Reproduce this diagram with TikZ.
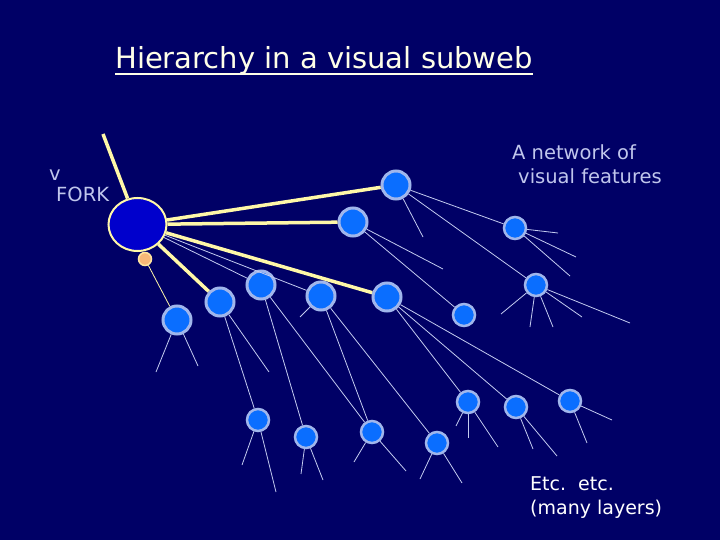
\documentclass[tikz,border=0pt]{standalone}
\usepackage{fontspec}
\setmainfont{DejaVu Sans}
\usetikzlibrary{shapes.geometric}
\definecolor{bg}{HTML}{000066}
\definecolor{featfill}{HTML}{0A6EFF}
\definecolor{featborder}{HTML}{A0B6EC}
\definecolor{strongyel}{HTML}{FFF8A8}
\definecolor{weakline}{HTML}{C4CCF0}
\definecolor{lblcol}{HTML}{C0C6EC}
\definecolor{forkfill}{HTML}{0000CC}
\definecolor{orfill}{HTML}{F8B878}
\definecolor{orborder}{HTML}{FFE6A0}
\definecolor{titlecol}{HTML}{FFFFE8}
\begin{document}
\begin{tikzpicture}[x=1pt,y=-1pt,
  feat/.style={circle,draw=featborder,fill=featfill,line width=3pt,minimum size=28pt,inner sep=0pt},
  featS/.style={circle,draw=featborder,fill=featfill,line width=2.5pt,minimum size=22pt,inner sep=0pt},
  strong/.style={draw=strongyel,line width=3.5pt},
  weak/.style={draw=weakline,line width=0.8pt},
  lbl/.style={text=lblcol,font=\fontsize{19.5}{22}\selectfont,inner sep=0pt,anchor=base west},
  wlbl/.style={text=white,font=\fontsize{19}{22}\selectfont,inner sep=0pt,anchor=base west}]
\fill[bg] (0,0) rectangle (720,540);
\useasboundingbox (0,0) rectangle (720,540);

% title
\node[text=titlecol,font=\fontsize{29}{34}\selectfont,inner sep=0pt,anchor=base west] (title) at (115,69) {Hierarchy in a visual subweb};
\draw[titlecol,line width=1.6pt] ([yshift=-5pt]title.base west) -- ([yshift=-5pt]title.base east);

% labels
\node[lbl] (v) at (49,181) {v};
\node[lbl] (forkl) at (56,202) {FORK};
\node[lbl] (net1) at (512,160) {A network of};
\node[lbl] (net2) at (518,184) {visual features};
\node[wlbl] (etc1) at (530,490) {Etc.\ \ etc.};
\node[wlbl] (etc2) at (530,514) {(many layers)};

% fork
\node[ellipse,draw=strongyel,fill=forkfill,line width=2pt,minimum width=58pt,minimum height=53pt,inner sep=0pt] (fork) at (137.5,224.5) {};
\node[circle,draw=orborder,fill=orfill,line width=1.5pt,minimum size=13pt,inner sep=0pt] (or) at (145,259) {};
\coordinate (up) at (103,134);

% feature nodes
\node[feat] (A) at (396,185) {};
\node[feat] (B) at (353,222) {};
\node[feat] (C) at (387,297) {};
\node[feat] (D) at (220,302) {};
\node[feat] (E) at (261,285) {};
\node[feat] (F) at (321,296) {};
\node[feat] (G) at (177,320) {};
\node[featS] (H) at (515,228) {};
\node[featS] (I) at (536,285) {};
\node[featS] (J) at (464,315) {};
\node[featS] (K) at (258,420) {};
\node[featS] (L) at (306,437) {};
\node[featS] (M) at (372,432) {};
\node[featS] (N) at (437,443) {};
\node[featS] (O) at (468,402) {};
\node[featS] (P) at (516,407) {};
\node[featS] (Q) at (570,401) {};

% stub ends
\coordinate (a1) at (423,237);
\coordinate (b1) at (443,269);
\coordinate (h1) at (558,233);
\coordinate (h2) at (576,257);
\coordinate (h3) at (570,276);
\coordinate (i1) at (630,323);
\coordinate (i2) at (582,317);
\coordinate (i3) at (553,327);
\coordinate (i4) at (530,327);
\coordinate (i5) at (501,314);
\coordinate (d1) at (269,372);
\coordinate (g1) at (156,372);
\coordinate (g2) at (198,366);
\coordinate (f1) at (300,317);
\coordinate (k1) at (242,465);
\coordinate (k2) at (276,492);
\coordinate (l1) at (301,474);
\coordinate (l2) at (323,480);
\coordinate (m1) at (354,462);
\coordinate (m2) at (406,471);
\coordinate (n1) at (420,479);
\coordinate (n2) at (462,483);
\coordinate (o1) at (456,426);
\coordinate (o2) at (468,438);
\coordinate (o3) at (498,447);
\coordinate (p1) at (533,449);
\coordinate (p2) at (557,456);
\coordinate (q1) at (612,420);
\coordinate (q2) at (587,443);

% weak connections
\draw[weak] (fork) -- (E);
\draw[weak] (fork) -- (F);
\draw[weak,draw=strongyel] (or) -- (G);
\draw[weak] (A) -- (H);
\draw[weak] (A) -- (I);
\draw[weak] (A) -- (a1);
\draw[weak] (B) -- (b1);
\draw[weak] (B) -- (J);
\draw[weak] (C) -- (O);
\draw[weak] (C) -- (P);
\draw[weak] (C) -- (Q);
\draw[weak] (H) -- (h1);
\draw[weak] (H) -- (h2);
\draw[weak] (H) -- (h3);
\draw[weak] (I) -- (i1);
\draw[weak] (I) -- (i2);
\draw[weak] (I) -- (i3);
\draw[weak] (I) -- (i4);
\draw[weak] (I) -- (i5);
\draw[weak] (D) -- (K);
\draw[weak] (D) -- (d1);
\draw[weak] (E) -- (L);
\draw[weak] (E) -- (M);
\draw[weak] (F) -- (M);
\draw[weak] (F) -- (N);
\draw[weak] (F) -- (f1);
\draw[weak] (G) -- (g1);
\draw[weak] (G) -- (g2);
\draw[weak] (K) -- (k1);
\draw[weak] (K) -- (k2);
\draw[weak] (L) -- (l1);
\draw[weak] (L) -- (l2);
\draw[weak] (M) -- (m1);
\draw[weak] (M) -- (m2);
\draw[weak] (N) -- (n1);
\draw[weak] (N) -- (n2);
\draw[weak] (O) -- (o1);
\draw[weak] (O) -- (o2);
\draw[weak] (O) -- (o3);
\draw[weak] (P) -- (p1);
\draw[weak] (P) -- (p2);
\draw[weak] (Q) -- (q1);
\draw[weak] (Q) -- (q2);

% strong connections
\draw[strong] (fork) -- (up);
\draw[strong] (fork) -- (A);
\draw[strong] (fork) -- (B);
\draw[strong] (fork) -- (C);
\draw[strong] (fork) -- (D);
\end{tikzpicture}
\end{document}
